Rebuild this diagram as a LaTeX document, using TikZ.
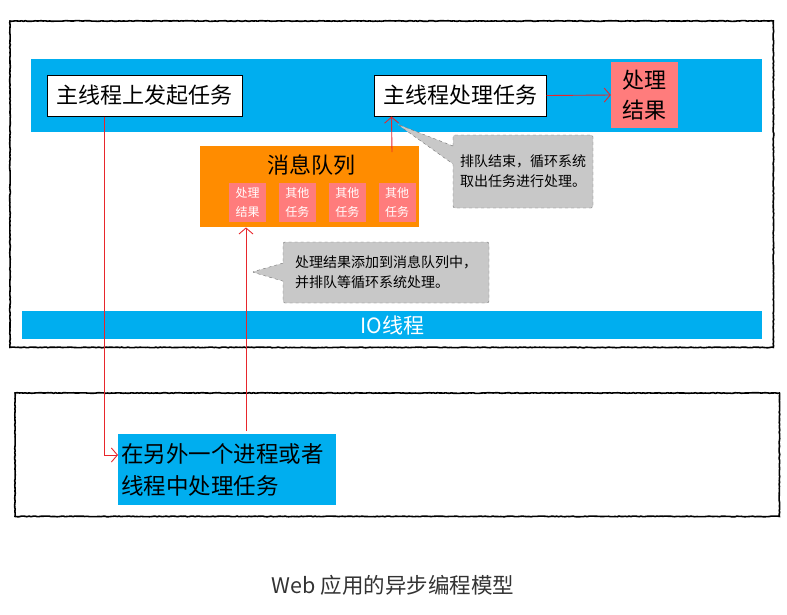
\documentclass[tikz,border=0pt]{standalone}
\usepackage{fontspec}
\setmainfont{Noto Sans CJK SC}
\usetikzlibrary{arrows.meta,positioning,calc,decorations.pathmorphing,shapes.callouts}
\definecolor{bandblue}{RGB}{0,174,239}
\definecolor{taskpink}{RGB}{255,124,124}
\definecolor{queueorange}{RGB}{255,140,0}
\definecolor{tipgray}{RGB}{200,200,200}
\definecolor{linkred}{RGB}{232,38,43}
\tikzset{
  band/.style={fill=bandblue,inner sep=0pt,anchor=north west},
  taskbox/.style={draw=black,line width=1pt,fill=white,inner sep=0pt,minimum height=41pt,font=\fontsize{22}{24}\selectfont},
  minibox/.style={fill=taskpink,text=white,inner sep=0pt,minimum width=37pt,minimum height=39pt,align=center,font=\fontsize{12}{19}\selectfont},
  tipbox/.style={rectangle callout,fill=tipgray,draw=black!55,dashed,rounded corners=2pt,align=left,inner sep=0pt,callout pointer width=18pt,font=\fontsize{14}{20}\selectfont},
  link/.style={-{Straight Barb[length=6pt,width=14pt]},linkred,line width=0.9pt},
  sketch/.style={draw=black,line width=1.6pt,decorate,decoration={random steps,segment length=2pt,amplitude=0.35pt}}
}

\begin{document}
\begin{tikzpicture}[x=1pt,y=-1pt]
  \useasboundingbox (0,0) rectangle (787,614);
  % renderer process and the other process
  \node[minimum width=763pt,minimum height=326pt,inner sep=0pt,anchor=north west] (renderer) at (10,21) {};
  \node[minimum width=764pt,minimum height=123pt,inner sep=0pt,anchor=north west] (worker) at (15,393) {};
  \draw[sketch] (renderer.north west) rectangle (renderer.south east);
  \draw[sketch] (worker.north west) rectangle (worker.south east);

  % main thread
  \node[band,minimum width=731pt,minimum height=73pt] (mainband) at (31,59) {};
  \node[taskbox,minimum width=195pt] (start) at (144.5,95.5) {主线程上发起任务};
  \node[taskbox,minimum width=172pt] (handle) at (460,95.5) {主线程处理任务};
  \node[fill=taskpink,inner sep=0pt,minimum width=67pt,minimum height=66pt,align=center,
        font=\fontsize{22}{30}\selectfont] (result) at (644.5,95) {处理\\结果};

  % message queue
  \node[fill=queueorange,inner sep=0pt,minimum width=219pt,minimum height=81pt,anchor=north west] (queue) at (200,146) {};
  \node[font=\fontsize{22}{24}\selectfont] (qtitle) at (311,165) {消息队列};
  \node[minibox] (q1) at (247.5,202.5) {处理\\结果};
  \node[minibox,right=12.5pt of q1] (q2) {其他\\任务};
  \node[minibox,right=12.5pt of q2] (q3) {其他\\任务};
  \node[minibox,right=12.5pt of q3] (q4) {其他\\任务};

  % notes
  \node[tipbox,minimum width=140pt,minimum height=73pt,callout absolute pointer={(397,124)}] (tip1) at (523,171.5)
    {排队结束，循环系统\\取出任务进行处理。};
  \node[tipbox,minimum width=206pt,minimum height=61pt,callout absolute pointer={(252,272)}] (tip2) at (386,272.5)
    {处理结果添加到消息队列中，\\并排队等循环系统处理。};

  % IO thread
  \node[band,minimum width=740pt,minimum height=28pt,text=white,font=\fontsize{21}{22}\selectfont] (ioband) at (22,311) {IO线程};

  % task in the other process
  \node[band,minimum width=218pt,minimum height=71pt,align=left,text width=212pt,inner xsep=3pt,
        font=\fontsize{22.5}{32}\selectfont] (other) at (118,434) {在另外一个进程或者\\线程中处理任务};

  % links
  \draw[link] ($(start.south west)+(58,0)$) |- ($(other.north west)+(0,21)$);
  \draw[link] ($(other.north west)+(128,-3)$) -- ($(queue.south west)+(46,0)$);
  \draw[link] ($(queue.north west)+(192,6)$) -- ($(handle.south west)+(18,0)$);
  \draw[link] (handle.east) -- (result.west);

  \node[font=\fontsize{21.5}{24}\selectfont,text=black!80] (caption) at (393,585) {Web 应用的异步编程模型};
\end{tikzpicture}
\end{document}
